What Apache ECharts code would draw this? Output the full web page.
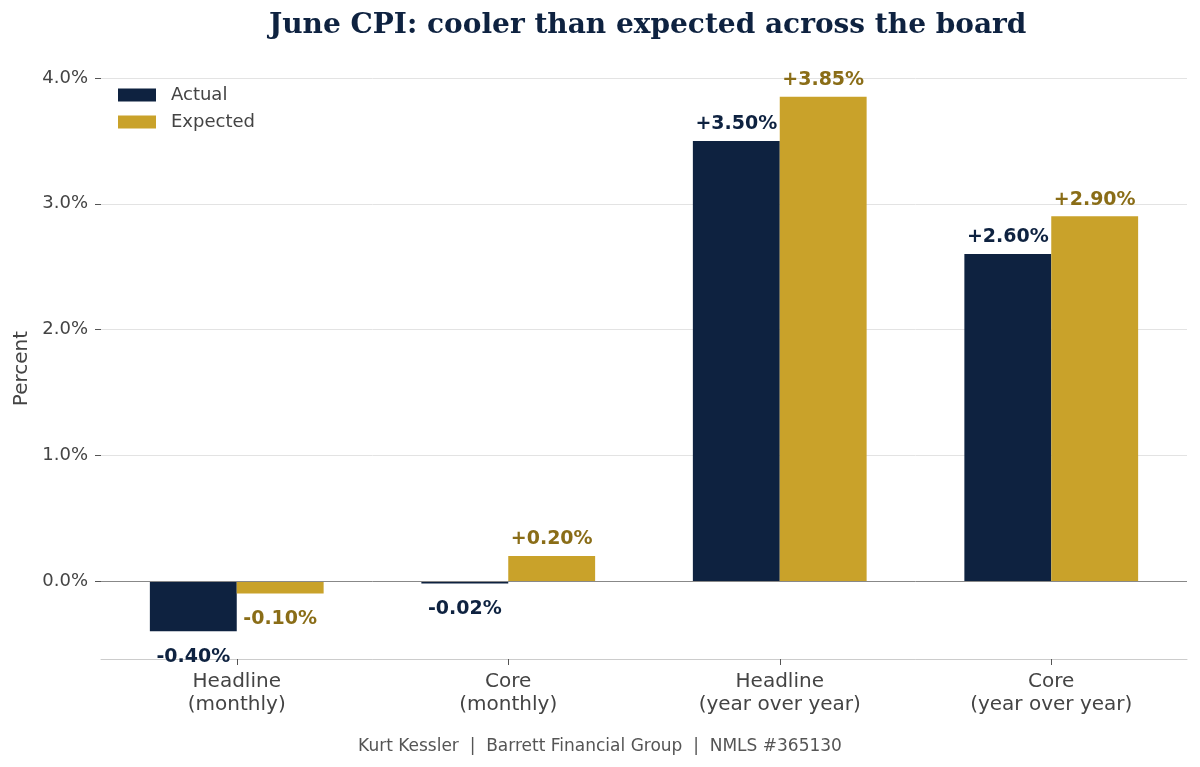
<!DOCTYPE html>
<html>
<head>
<meta charset="utf-8">
<script src="https://cdn.jsdelivr.net/npm/echarts@6/dist/echarts.min.js"></script>
<style>
html,body{margin:0;padding:0;background:#fff;}
#chart{width:1200px;height:767px;}
</style>
</head>
<body>
<div id="chart"></div>
<script>
const categories = ['Headline\n(monthly)', 'Core\n(monthly)', 'Headline\n(year over year)', 'Core\n(year over year)'];
const actualValues = [-0.40, -0.02, 3.50, 2.60];
const expectedValues = [-0.10, 0.20, 3.85, 2.90];
const seriesNames = ['Actual', 'Expected'];
const titleText = 'June CPI: cooler than expected across the board';
const footerText = 'Kurt Kessler  |  Barrett Financial Group  |  NMLS #365130';

const NAVY = '#0e2240';
const GOLD = '#c9a22a';
const GOLD_TEXT = '#8a6d17';
const FONT = 'DejaVu Sans';

function fmtLabel(v){ return (v >= 0 ? '+' : '') + v.toFixed(2) + '%'; }

function makeData(values, labelColor){
  return values.map(v => ({
    value: v,
    label: {
      show: true,
      position: v >= 0 ? 'top' : 'bottom',
      distance: v >= 0 ? 7 : 16,
      formatter: () => fmtLabel(v),
      color: labelColor,
      fontFamily: FONT,
      fontWeight: 'bold',
      fontSize: 19
    }
  }));
}

const chart = echarts.init(document.getElementById('chart'), null, {renderer: 'canvas'});
chart.setOption({
  animation: false,
  backgroundColor: '#ffffff',
  title: [{
    text: titleText,
    left: 264,
    top: 7,
    textStyle: {fontFamily: 'DejaVu Serif', fontWeight: 'bold', fontSize: 28, color: NAVY}
  }, {
    text: footerText,
    left: 'center',
    top: 733,
    textStyle: {fontFamily: FONT, fontWeight: 'normal', fontSize: 17, color: '#555555'}
  }],
  legend: {
    orient: 'vertical',
    left: 118,
    top: 86,
    padding: 0,
    itemWidth: 38,
    itemHeight: 13,
    itemGap: 9,
    icon: 'rect',
    textStyle: {fontFamily: FONT, fontSize: 18, color: '#444444', padding: [0, 0, 0, 10]},
    data: seriesNames
  },
  grid: {left: 101, right: 13, top: 78, bottom: 108, containLabel: false},
  xAxis: {
    type: 'category',
    data: categories,
    boundaryGap: true,
    axisLine: {show: true, onZero: false, lineStyle: {color: '#cccccc', width: 1}},
    axisTick: {show: true, alignWithLabel: true, length: 6, lineStyle: {color: '#555555'}},
    axisLabel: {fontFamily: FONT, fontSize: 20, color: '#444444', lineHeight: 23, margin: 11},
    splitLine: {show: false}
  },
  yAxis: {
    type: 'value',
    min: -0.62,
    max: 4.0,
    splitNumber: 5,
    name: 'Percent',
    nameLocation: 'middle',
    nameGap: 69,
    nameTextStyle: {fontFamily: FONT, fontSize: 20, color: '#444444'},
    axisLine: {show: false},
    axisTick: {show: true, length: 6, lineStyle: {color: '#555555'}},
    axisLabel: {fontFamily: FONT, fontSize: 18, color: '#444444', margin: 13, showMinLabel: false,
      formatter: v => v.toFixed(1) + '%'},
    splitLine: {show: true, lineStyle: {color: '#e3e3e3', width: 1}}
  },
  series: [{
    name: seriesNames[0],
    type: 'bar',
    barGap: '0%',
    barCategoryGap: '36%',
    itemStyle: {color: NAVY},
    data: makeData(actualValues, NAVY),
    markLine: {
      silent: true,
      symbol: 'none',
      label: {show: false},
      lineStyle: {color: '#888888', width: 1, type: 'solid'},
      data: [{yAxis: 0}]
    },
    z: 3
  }, {
    name: seriesNames[1],
    type: 'bar',
    barGap: '0%',
    barCategoryGap: '36%',
    itemStyle: {color: GOLD},
    data: makeData(expectedValues, GOLD_TEXT),
    z: 3
  }]
});
</script>
</body>
</html>
